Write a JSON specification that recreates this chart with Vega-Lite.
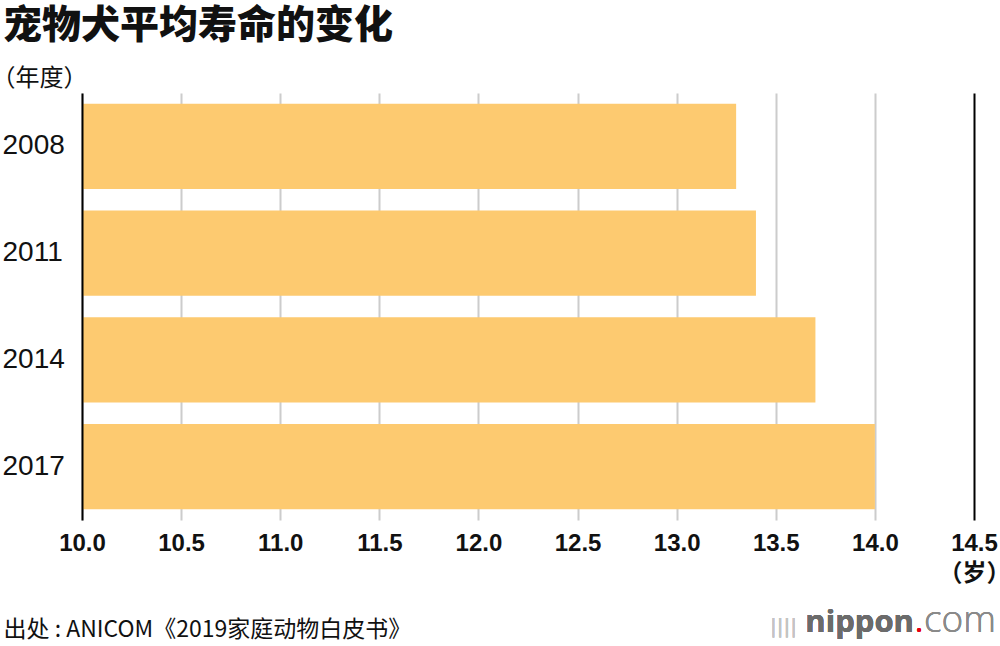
{
  "$schema": "https://vega.github.io/schema/vega-lite/v6.json",
  "width": 892,
  "height": 427,
  "autosize": {"type": "none"},
  "padding": {"left": 82, "top": 93, "right": 26, "bottom": 126},
  "background": "white",
  "title": {
    "text": "宠物犬平均寿命的变化",
    "anchor": "start",
    "frame": "group",
    "dx": -79,
    "offset": 20,
    "font": "Noto Sans CJK SC",
    "fontSize": 39,
    "fontWeight": 900,
    "color": "#111111"
  },
  "data": {
    "values": [
      {"year": "2008", "age": 13.3},
      {"year": "2011", "age": 13.4},
      {"year": "2014", "age": 13.7},
      {"year": "2017", "age": 14.0}
    ]
  },
  "layer": [
    {
      "mark": {"type": "bar", "color": "#FDCA70"},
      "encoding": {
        "y": {
          "field": "year",
          "type": "nominal",
          "sort": null,
          "scale": {"paddingInner": 0.2, "paddingOuter": 0.1},
          "axis": {
            "title": "（年度）",
            "titleAngle": 0,
            "titleX": -91,
            "titleY": -15,
            "titleAlign": "left",
            "titleBaseline": "middle",
            "titleFont": "Noto Sans CJK SC",
            "titleFontSize": 24,
            "titleFontWeight": "normal",
            "titleColor": "#111111",
            "ticks": false,
            "tickSize": 0,
            "labelAlign": "left",
            "labelBaseline": "middle",
            "labelPadding": 80,
            "labelFont": "Liberation Sans",
            "labelFontSize": 28,
            "labelColor": "#111111",
            "domainColor": "#000000",
            "domainWidth": 2,
            "zindex": 2
          }
        },
        "x": {
          "field": "age",
          "type": "quantitative",
          "scale": {"domain": [10, 14.5], "zero": false, "nice": false},
          "axis": {
            "values": [10, 10.5, 11, 11.5, 12, 12.5, 13, 13.5, 14, 14.5],
            "labelExpr": "datum.value == 14.5 ? ['14.5', '（岁）'] : format(datum.value, '.1f')",
            "labelFont": "Liberation Sans, Noto Sans CJK SC",
            "labelFontSize": 24,
            "labelFontWeight": "bold",
            "labelLineHeight": 30,
            "labelColor": "#111111",
            "labelBaseline": "top",
            "labelPadding": 11,
            "labelFlush": false,
            "labelOverlap": false,
            "labelBound": false,
            "domain": false,
            "ticks": false,
            "tickSize": 0,
            "grid": true,
            "gridColor": {"condition": {"test": "datum.value == 14.5", "value": "#000000"}, "value": "#cccccc"},
            "gridWidth": 2,
            "title": "出处 : ANICOM《2019家庭动物白皮书》",
            "titleX": -79,
            "titleY": 109,
            "titleAlign": "left",
            "titleAnchor": "start",
            "titleBaseline": "middle",
            "titleFont": "Noto Sans CJK SC",
            "titleFontSize": 23,
            "titleFontWeight": "normal",
            "titleColor": "#111111"
          }
        },
        "x2": {"datum": 10}
      }
    },
    {
      "mark": {"type": "text", "align": "right", "baseline": "alphabetic", "dx": -60, "dy": 165, "font": "Open Sans", "fontSize": 31, "fontWeight": "bold", "color": "#6b6b6b"},
      "encoding": {
        "x": {"datum": 14.5, "type": "quantitative"},
        "y": {"datum": "2017", "type": "nominal"},
        "text": {"value": "nippon"}
      }
    },
    {
      "mark": {"type": "text", "align": "left", "baseline": "alphabetic", "dx": -59, "dy": 165, "font": "Open Sans", "fontSize": 31, "fontWeight": "normal", "color": "#e60012"},
      "encoding": {
        "x": {"datum": 14.5, "type": "quantitative"},
        "y": {"datum": "2017", "type": "nominal"},
        "text": {"value": "."}
      }
    },
    {
      "mark": {"type": "text", "align": "left", "baseline": "alphabetic", "dx": -50, "dy": 165, "font": "Open Sans", "fontSize": 37, "fontWeight": 300, "color": "#8a8a8a"},
      "encoding": {
        "x": {"datum": 14.5, "type": "quantitative"},
        "y": {"datum": "2017", "type": "nominal"},
        "text": {"value": "com"}
      }
    },
    {
      "mark": {"type": "text", "align": "right", "baseline": "alphabetic", "dx": -177, "dy": 166, "font": "DejaVu Sans", "fontSize": 20, "fontWeight": "normal", "color": "#c4c4c4"},
      "encoding": {
        "x": {"datum": 14.5, "type": "quantitative"},
        "y": {"datum": "2017", "type": "nominal"},
        "text": {"value": "||||"}
      }
    }
  ],
  "config": {
    "view": {"stroke": null}
  }
}
